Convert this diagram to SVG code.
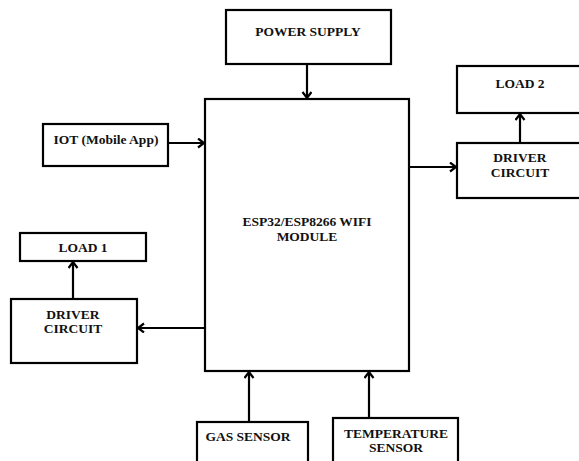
<svg xmlns="http://www.w3.org/2000/svg" width="579" height="461" viewBox="0 0 579 461">
<defs>
<style>
.box{fill:#fff;stroke:#000;stroke-width:2.2}
.lbl{font-family:"Liberation Serif","Times New Roman",serif;font-weight:bold;font-size:13.5px;fill:#111;text-anchor:middle}
.conn{stroke:#000;stroke-width:2.2;fill:none}
</style>
<marker id="ah" markerUnits="userSpaceOnUse" markerWidth="12" markerHeight="12" refX="8" refY="5" orient="auto">
<path d="M2,0.5 L8,5 L2,9.5" fill="none" stroke="#000" stroke-width="2.2"/>
</marker>
</defs>
<rect width="579" height="461" fill="#fff"/>
<g id="power"><rect class="box" x="226" y="10" width="165" height="54"/><text class="lbl" x="308" y="36">POWER SUPPLY</text></g>
<g id="esp"><rect class="box" x="205" y="99" width="204" height="272"/><text class="lbl" x="307" y="226">ESP32/ESP8266 WIFI</text><text class="lbl" x="307" y="241">MODULE</text></g>
<g id="load2"><rect class="box" x="457" y="66" width="130" height="47"/><text class="lbl" x="520" y="88">LOAD 2</text></g>
<g id="driver2"><rect class="box" x="457" y="143" width="130" height="55"/><text class="lbl" x="520" y="162">DRIVER</text><text class="lbl" x="520" y="177">CIRCUIT</text></g>
<g id="iot"><rect class="box" x="43" y="124" width="125" height="42"/><text class="lbl" x="106" y="144">IOT (Mobile App)</text></g>
<g id="load1"><rect class="box" x="20" y="233" width="126" height="28"/><text class="lbl" x="83" y="252">LOAD 1</text></g>
<g id="driver1"><rect class="box" x="11" y="299" width="126" height="64"/><text class="lbl" x="73" y="319">DRIVER</text><text class="lbl" x="73" y="333">CIRCUIT</text></g>
<g id="gas"><rect class="box" x="197" y="422" width="111" height="50"/><text class="lbl" x="248" y="441">GAS SENSOR</text></g>
<g id="temp"><rect class="box" x="333" y="418" width="125" height="54"/><text class="lbl" x="396" y="438">TEMPERATURE</text><text class="lbl" x="396" y="452">SENSOR</text></g>
<g id="connectors">
<line class="conn" x1="307" y1="64" x2="307" y2="98" marker-end="url(#ah)"/>
<line class="conn" x1="168" y1="143" x2="204" y2="143" marker-end="url(#ah)"/>
<line class="conn" x1="409" y1="167" x2="456" y2="167" marker-end="url(#ah)"/>
<line class="conn" x1="520" y1="143" x2="520" y2="114" marker-end="url(#ah)"/>
<line class="conn" x1="205" y1="328" x2="138" y2="328" marker-end="url(#ah)"/>
<line class="conn" x1="73" y1="299" x2="73" y2="262" marker-end="url(#ah)"/>
<line class="conn" x1="249" y1="422" x2="249" y2="372" marker-end="url(#ah)"/>
<line class="conn" x1="369" y1="418" x2="369" y2="372" marker-end="url(#ah)"/>
</g>
</svg>
